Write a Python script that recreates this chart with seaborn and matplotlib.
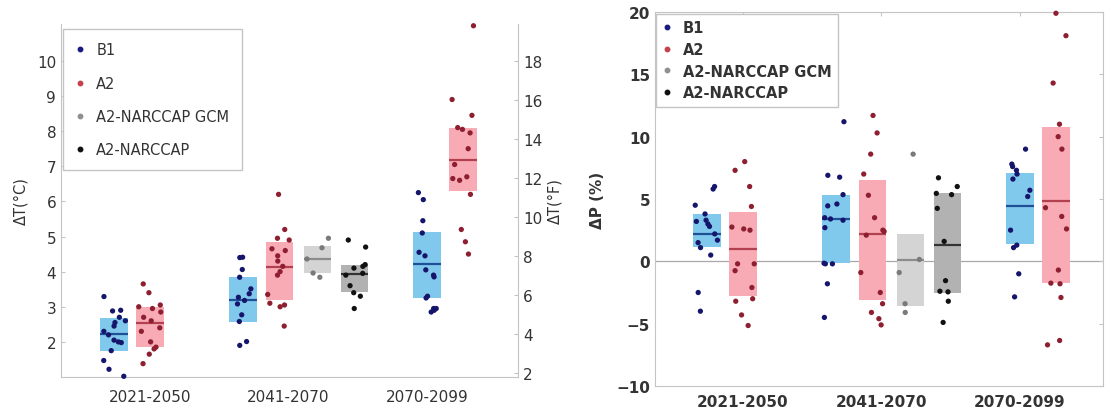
import numpy as np
import pandas as pd
import matplotlib
matplotlib.use("Agg")
import matplotlib.pyplot as plt
from matplotlib.lines import Line2D
import seaborn as sns

sns.set_style("white")
plt.rcParams["font.family"] = ["DejaVu Sans"]

periods = ["2021-2050", "2041-2070", "2070-2099"]
scenarios = ["B1", "A2", "A2-NARCCAP GCM", "A2-NARCCAP"]

# ---------------------------------------------------------------
# Temperature change (deg C), left panel
# ---------------------------------------------------------------
dT_B1 = {
    "2021-2050": [3.29, 2.9, 2.88, 2.7, 2.6, 2.55, 2.45, 2.3, 2.2, 2.05, 2.0, 1.98, 1.75, 1.47, 1.22, 1.02],
    "2041-2070": [4.41, 4.4, 4.06, 3.84, 3.51, 3.37, 3.27, 3.18, 3.08, 2.77, 2.58, 2.01, 1.9],
    "2070-2099": [6.25, 6.05, 5.45, 5.1, 4.55, 4.45, 4.05, 3.9, 3.85, 3.3, 3.25, 2.95, 2.95, 2.85, 2.9],
}
dT_A2 = {
    "2021-2050": [3.65, 3.4, 3.05, 3.0, 2.95, 2.85, 2.7, 2.6, 2.4, 2.3, 2.0, 1.85, 1.8, 1.65, 1.38],
    "2041-2070": [6.2, 5.2, 4.95, 4.9, 4.65, 4.6, 4.45, 4.3, 4.15, 4.0, 3.9, 3.35, 3.1, 3.05, 3.0, 2.45],
    "2070-2099": [11.0, 8.9, 8.45, 8.1, 8.05, 7.95, 7.5, 7.05, 6.7, 6.65, 6.6, 6.2, 5.2, 4.85, 4.5],
}
dT_GCM = {"2041-2070": [4.95, 4.68, 4.36, 3.96, 3.84]}
dT_RCM = {"2041-2070": [4.9, 4.7, 4.2, 4.15, 4.1, 3.95, 3.9, 3.6, 3.4, 3.3, 2.95]}

# boxes: (low, median, high)
dT_box_B1 = {"2021-2050": (1.74, 2.21, 2.68), "2041-2070": (2.58, 3.19, 3.84), "2070-2099": (3.25, 4.22, 5.12)}
dT_box_A2 = {"2021-2050": (1.86, 2.53, 3.0), "2041-2070": (3.19, 4.14, 4.83), "2070-2099": (6.29, 7.18, 8.09)}
dT_box_GCM = {"2041-2070": (3.96, 4.36, 4.72)}
dT_box_RCM = {"2041-2070": (3.43, 3.93, 4.2)}

# ---------------------------------------------------------------
# Precipitation change (%), right panel
# ---------------------------------------------------------------
dP_B1 = {
    "2021-2050": [6.0, 5.8, 4.5, 3.8, 3.3, 3.2, 3.0, 2.8, 2.2, 1.7, 1.5, 1.1, 0.5, -2.5, -4.0],
    "2041-2070": [11.2, 6.9, 6.75, 5.35, 4.6, 4.45, 3.5, 3.4, 3.3, 2.7, -0.15, -0.2, -0.2, -1.8, -4.5],
    "2070-2099": [9.0, 7.8, 7.6, 7.3, 7.0, 6.6, 5.7, 5.2, 2.5, 1.3, 1.1, -1.0, -2.85],
}
dP_A2 = {
    "2021-2050": [8.0, 7.3, 6.0, 4.4, 2.75, 2.6, 2.5, -0.2, -0.2, -0.75, -2.1, -3.0, -3.2, -4.3, -5.15],
    "2041-2070": [11.7, 10.3, 8.6, 7.0, 5.3, 3.5, 2.5, 2.4, 2.1, -0.9, -2.5, -3.4, -4.1, -4.6, -5.1],
    "2070-2099": [19.9, 18.1, 14.3, 11.0, 10.0, 9.0, 4.3, 3.6, 2.6, -0.7, -1.75, -1.8, -2.9, -6.35, -6.7],
}
dP_GCM = {"2041-2070": [8.6, 0.15, -0.9, -3.4, -4.1]}
dP_RCM = {"2041-2070": [6.7, 6.0, 5.45, 5.35, 4.25, 1.6, -1.55, -2.4, -2.45, -3.2, -4.9]}

dP_box_B1 = {"2021-2050": (1.18, 2.23, 3.79), "2041-2070": (-0.1, 3.39, 5.35), "2070-2099": (1.42, 4.46, 7.07)}
dP_box_A2 = {"2021-2050": (-2.8, 0.97, 3.98), "2041-2070": (-3.12, 2.23, 6.56), "2070-2099": (-1.77, 4.86, 10.77)}
dP_box_GCM = {"2041-2070": (-3.55, 0.08, 2.23)}
dP_box_RCM = {"2041-2070": (-2.53, 1.32, 5.48)}

# ---------------------------------------------------------------
# Styling / layout
# ---------------------------------------------------------------
slot_offset = {
    "2021-2050": {"B1": -0.26, "A2": 0.0},
    "2041-2070": {"B1": -0.33, "A2": -0.065, "A2-NARCCAP GCM": 0.21, "A2-NARCCAP": 0.477},
    "2070-2099": {"B1": 0.0, "A2": 0.26},
}
box_colors = {"B1": "#80c9ec", "A2": "#f8aab5", "A2-NARCCAP GCM": "#d4d4d4", "A2-NARCCAP": "#b2b2b2"}
median_colors = {"B1": "#1f4f97", "A2": "#b3404f", "A2-NARCCAP GCM": "#8c8c8c", "A2-NARCCAP": "#333333"}
point_colors = {"B1": "#15156b", "A2": "#8e1f30", "A2-NARCCAP GCM": "#7a7a7a", "A2-NARCCAP": "#111111"}
legend_colors = {"B1": "#1a1a80", "A2": "#c4424f", "A2-NARCCAP GCM": "#909090", "A2-NARCCAP": "#111111"}
spine_color = "#c4c4c4"
text_color = "#333333"
BOX_W = 0.2


def to_frame(series):
    rows = []
    for scen, d in series.items():
        for i, per in enumerate(periods):
            if per not in d:
                continue
            pos = round(i + 1 + slot_offset[per][scen], 3)
            for v in d[per]:
                rows.append({"pos": pos, "value": v, "scenario": scen})
    return pd.DataFrame(rows)


def draw_panel(ax, series, boxes):
    for scen, d in boxes.items():
        for i, per in enumerate(periods):
            if per not in d:
                continue
            lo, med, hi = d[per]
            pos = i + 1 + slot_offset[per][scen]
            ax.bar(pos, hi - lo, bottom=lo, width=BOX_W, color=box_colors[scen],
                   linewidth=0, zorder=1)
            ax.hlines(med, pos - BOX_W / 2, pos + BOX_W / 2, colors=median_colors[scen],
                      linewidth=1.6, zorder=2)
    df = to_frame(series)
    sns.stripplot(data=df, x="pos", y="value", hue="scenario", hue_order=scenarios,
                  palette=point_colors, native_scale=True, orient="x", jitter=0.33,
                  size=3.8, linewidth=0, legend=False, ax=ax, zorder=3, clip_on=False)
    ax.set_xticks([1, 2, 3])
    ax.set_xticklabels(periods)
    ax.set_xlabel("")


def add_legend(ax, **kw):
    handles = [Line2D([], [], marker="o", ls="", color=legend_colors[s], markersize=3.2)
               for s in scenarios]
    leg = ax.legend(handles, scenarios, loc="upper left", fancybox=False, framealpha=1,
                    handlelength=0.6, handletextpad=0.8, **kw)
    leg.get_frame().set_edgecolor(spine_color)
    leg.get_frame().set_linewidth(1.0)
    for t in leg.get_texts():
        t.set_color(text_color)
    return leg


np.random.seed(7)
fig = plt.figure(figsize=(11.1, 4.14), dpi=100)

# ---------------- left: temperature ----------------
axT = fig.add_axes([61 / 1110, 1 - 378 / 414, (518 - 61) / 1110, (378 - 25) / 414])
draw_panel(axT,
           {"B1": dT_B1, "A2": dT_A2, "A2-NARCCAP GCM": dT_GCM, "A2-NARCCAP": dT_RCM},
           {"B1": dT_box_B1, "A2": dT_box_A2, "A2-NARCCAP GCM": dT_box_GCM, "A2-NARCCAP": dT_box_RCM})
axT.set_xlim(0.357, 3.657)
axT.set_ylim(1.0, 11.05)
axT.set_yticks(range(2, 11))
axT.set_ylabel("ΔT(°C)", fontsize=10.5, color=text_color, labelpad=6)
for side in ["top", "right"]:
    axT.spines[side].set_visible(False)
for side in ["left", "bottom"]:
    axT.spines[side].set_color(spine_color)
axT.tick_params(direction="in", length=3, color=spine_color, labelsize=11, labelcolor=text_color)
axT.tick_params(axis="x", pad=9)
add_legend(axT, fontsize=10.5, labelspacing=1.25, borderpad=0.9,
           bbox_to_anchor=(0.004, 0.985), borderaxespad=0)

axF = axT.twinx()
axF.set_position(axT.get_position())
lo, hi = axT.get_ylim()
axF.set_ylim(lo * 1.8, hi * 1.8)
axF.set_yticks(range(2, 19, 2))
axF.set_ylabel("ΔT(°F)", fontsize=10.5, color=text_color, labelpad=4)
for side in ["top", "left", "bottom"]:
    axF.spines[side].set_visible(False)
axF.spines["right"].set_color(spine_color)
axF.tick_params(direction="in", length=3, color=spine_color, labelsize=11, labelcolor=text_color)

# ---------------- right: precipitation ----------------
axP = fig.add_axes([655 / 1110, 1 - 387 / 414, (1103 - 655) / 1110, (387 - 13) / 414])
axP.axhline(0, color="#a8a8a8", linewidth=0.9, zorder=0.5)
draw_panel(axP,
           {"B1": dP_B1, "A2": dP_A2, "A2-NARCCAP GCM": dP_GCM, "A2-NARCCAP": dP_RCM},
           {"B1": dP_box_B1, "A2": dP_box_A2, "A2-NARCCAP GCM": dP_box_GCM, "A2-NARCCAP": dP_box_RCM})
axP.set_xlim(0.365, 3.6)
axP.set_ylim(-10, 20)
axP.set_yticks(range(-10, 21, 5))
axP.set_ylabel("ΔP (%)", fontsize=11, fontweight="bold", color=text_color, labelpad=8)
for side in axP.spines:
    axP.spines[side].set_color(spine_color)
axP.tick_params(direction="in", length=3, color=spine_color, labelsize=11, labelcolor=text_color,
                top=True, right=True)
axP.tick_params(axis="x", pad=6)
for lab in axP.get_xticklabels() + axP.get_yticklabels():
    lab.set_fontweight("bold")
legP = add_legend(axP, fontsize=10.5, labelspacing=0.45, borderpad=0.45,
                  bbox_to_anchor=(0.002, 0.995), borderaxespad=0)
for t in legP.get_texts():
    t.set_fontweight("bold")

fig.savefig("out.png", dpi=100)
